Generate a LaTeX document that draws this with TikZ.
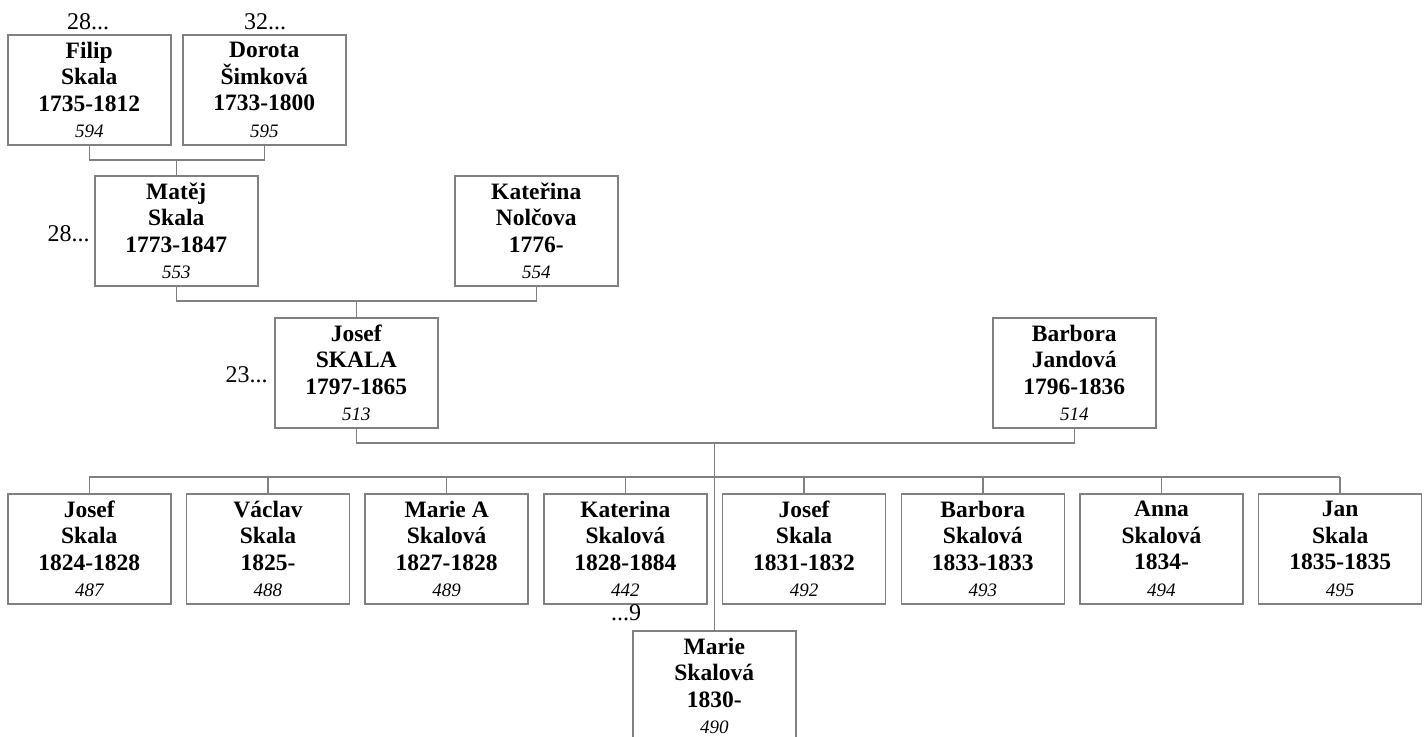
\documentclass[tikz,border=0pt]{standalone}
\usepackage{fontspec}
\setmainfont{Liberation Serif}
\definecolor{boxgray}{RGB}{128,128,128}
\newcommand{\pers}[4]{#1\\#2\\#3\\{\fontsize{9.5}{11}\selectfont\mdseries\itshape #4}}
\begin{document}
\begin{tikzpicture}[x=0.5pt,y=-0.5pt,
  pbox/.style={draw=boxgray, line width=0.75pt, minimum width=81.5pt, minimum height=55pt,
    inner sep=0pt, align=center, font=\fontsize{11.75}{13.25}\selectfont\bfseries, anchor=north west},
  conn/.style={draw=boxgray, line width=0.75pt},
  lbl/.style={font=\fontsize{12}{14}\selectfont, inner sep=0pt}]
\useasboundingbox[fill=white] (0,0) rectangle (1427,736);

% generation 1
\node[pbox] (filip) at (7,34) {\pers{Filip}{Skala}{1735-1812}{594}};
\node[pbox] (dorota) at (182,34) {\pers{Dorota}{Šimková}{1733-1800}{595}};
% generation 2
\node[pbox] (matej) at (94,175) {\pers{Matěj}{Skala}{1773-1847}{553}};
\node[pbox] (katerinaN) at (454,175) {\pers{Kateřina}{Nolčova}{1776-}{554}};
% generation 3
\node[pbox] (josef) at (274,317) {\pers{Josef}{SKALA}{1797-1865}{513}};
\node[pbox] (barbora) at (992,317) {\pers{Barbora}{Jandová}{1796-1836}{514}};
% children
\node[pbox] (c1) at (7,493) {\pers{Josef}{Skala}{1824-1828}{487}};
\node[pbox] (c2) at (185.7,493) {\pers{Václav}{Skala}{1825-}{488}};
\node[pbox] (c3) at (364.4,493) {\pers{Marie A}{Skalová}{1827-1828}{489}};
\node[pbox] (c4) at (543.1,493) {\pers{Katerina}{Skalová}{1828-1884}{442}};
\node[pbox] (c5) at (721.8,493) {\pers{Josef}{Skala}{1831-1832}{492}};
\node[pbox] (c6) at (900.5,493) {\pers{Barbora}{Skalová}{1833-1833}{493}};
\node[pbox] (c7) at (1079.2,493) {\pers{Anna}{Skalová}{1834-}{494}};
\node[pbox] (c8) at (1257.9,493) {\pers{Jan}{Skala}{1835-1835}{495}};

% connectors gen1 -> gen2
\draw[conn] (filip.south) -- (filip.south |- 0,160) -- (dorota.south |- 0,160) -- (dorota.south);
\draw[conn] (matej.north) -- (matej.north |- 0,160);
% gen2 -> gen3
\draw[conn] (matej.south) -- (matej.south |- 0,301) -- (katerinaN.south |- 0,301) -- (katerinaN.south);
\draw[conn] (josef.north) -- (josef.north |- 0,301);
% gen3 -> children
\draw[conn] (josef.south) -- (josef.south |- 0,443) -- (barbora.south |- 0,443) -- (barbora.south);
\coordinate (fam) at (714.25,443);
\node[pbox, anchor=north] (marie) at (714.25,630) {\pers{Marie}{Skalová}{1830-}{490}};
\draw[conn] (fam) -- (marie.north);
\draw[conn] (c1.north |- 0,477) -- (c8.north |- 0,477);
\foreach \c in {c1,c2,c3,c4,c5,c6,c7,c8}{
  \draw[conn] (\c.north) -- (\c.north |- 0,477);
}

% labels
\node[lbl] (l28a) at (88,22) {28...};
\node[lbl] (l32) at (265,22) {32...};
\node[lbl, anchor=east] (l28b) at (90,234) {28...};
\node[lbl, anchor=east] (l23) at (268,375) {23...};
\node[lbl] (l9) at (626,613) {...9};
\end{tikzpicture}
\end{document}
